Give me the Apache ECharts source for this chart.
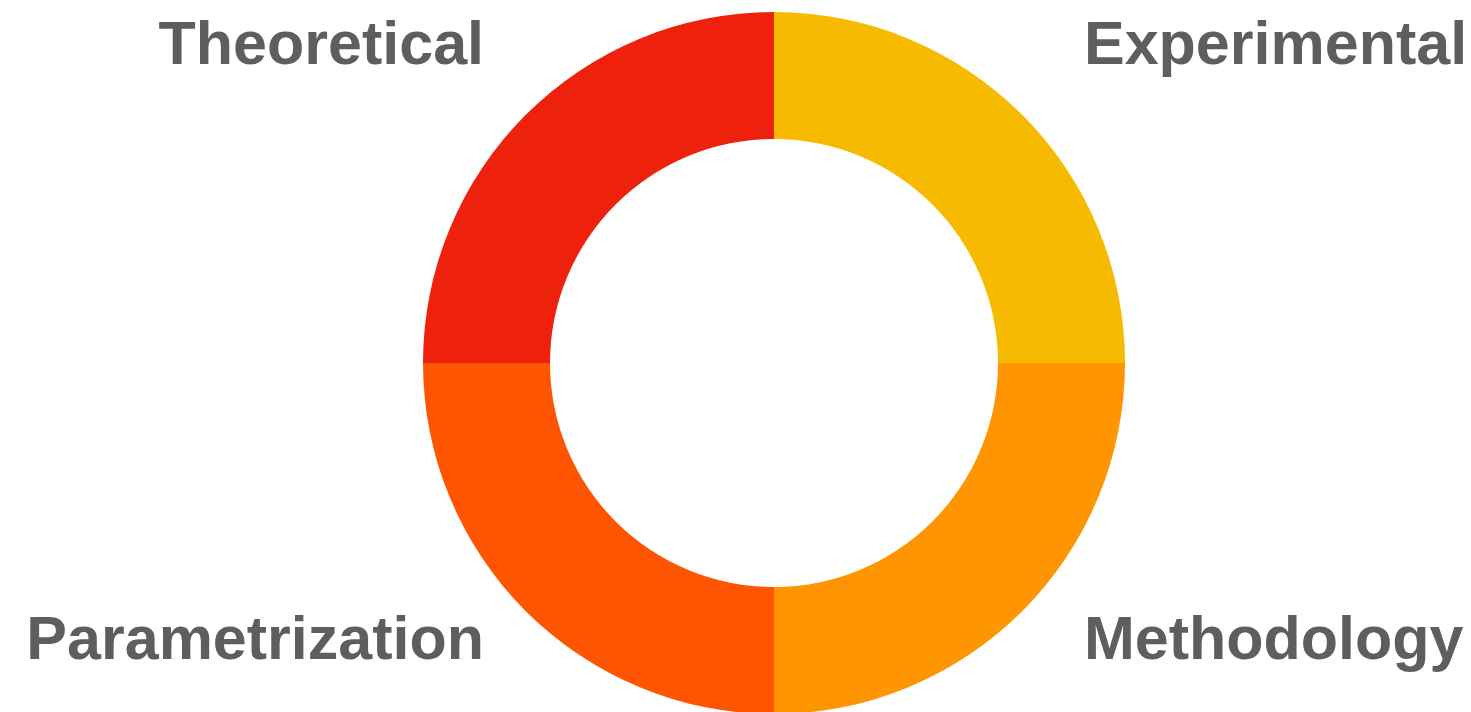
<!DOCTYPE html>
<html>
<head>
<meta charset="utf-8">
<script src="https://cdn.jsdelivr.net/npm/echarts@6/dist/echarts.min.js"></script>
<style>
  html, body { margin: 0; padding: 0; background: #ffffff; }
  #chart { width: 1471px; height: 712px; }
</style>
</head>
<body>
<div id="chart"></div>
<script>
// Four research areas, each an equal share of the ring (clockwise from 12 o'clock)
const categories = ['Experimental', 'Methodology', 'Parametrization', 'Theoretical'];
const values = [25, 25, 25, 25];
const colors = ['#F6BB00', '#FF9500', '#FF5500', '#EE220C'];

// Corner label placement for each category
const labelSpots = [
  { x: 1084, y: 47, align: 'left' },
  { x: 1084, y: 642, align: 'left' },
  { x: 484, y: 642, align: 'right' },
  { x: 484, y: 47, align: 'right' }
];

const chart = echarts.init(document.getElementById('chart'), null, { renderer: 'canvas' });

chart.setOption({
  backgroundColor: '#ffffff',
  animation: false,
  series: [{
    type: 'pie',
    center: [774, 363],
    radius: [224, 351],
    startAngle: 90,
    clockwise: true,
    label: { show: false },
    labelLine: { show: false },
    emphasis: { disabled: true },
    itemStyle: { borderWidth: 0 },
    data: categories.map((name, i) => ({
      name: name,
      value: values[i],
      itemStyle: { color: colors[i] }
    }))
  }],
  graphic: categories.map((name, i) => ({
    type: 'text',
    x: labelSpots[i].x,
    y: labelSpots[i].y,
    style: {
      text: name,
      fill: '#5E5E5E',
      font: 'bold 61px "Liberation Sans", Arial, sans-serif',
      textAlign: labelSpots[i].align,
      textVerticalAlign: 'middle'
    }
  }))
});
</script>
</body>
</html>
